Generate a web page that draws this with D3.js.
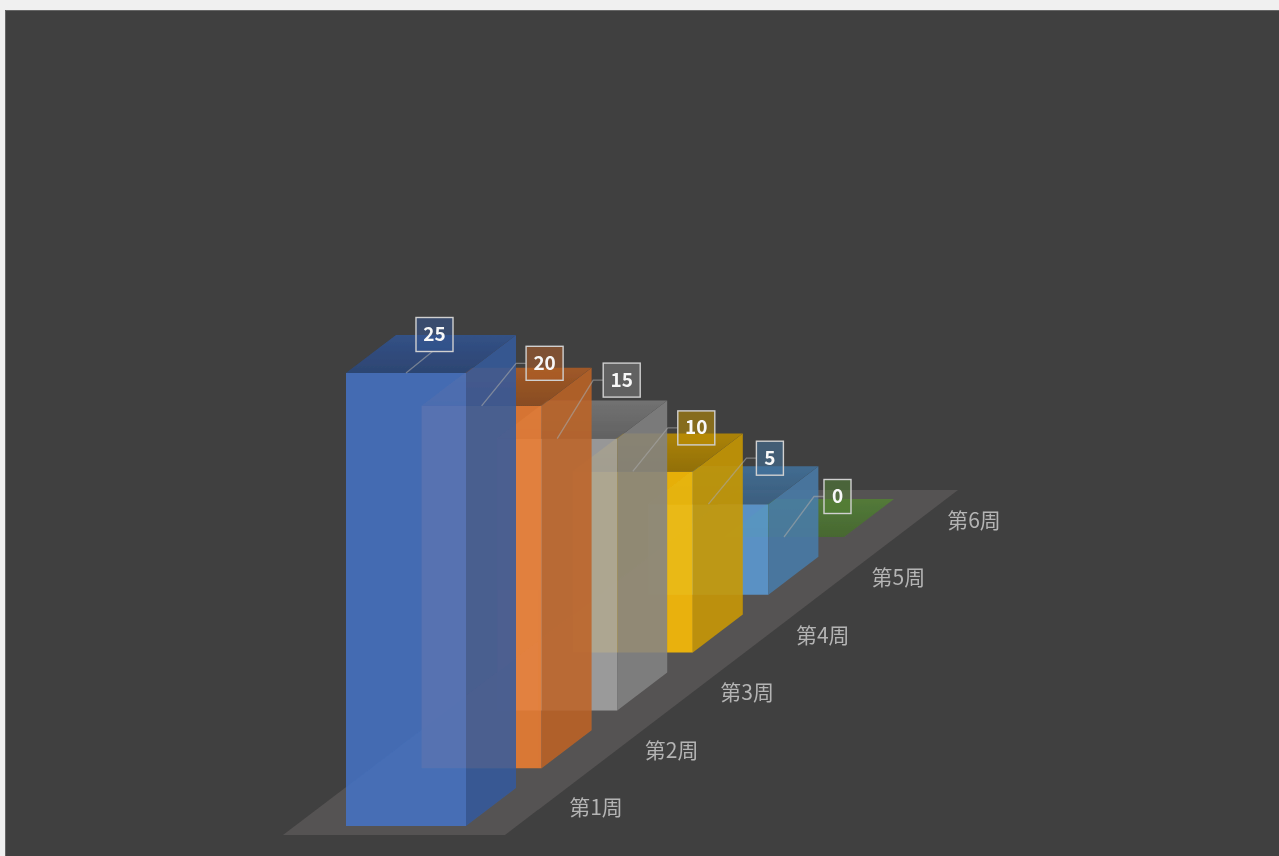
<!DOCTYPE html>
<html>
<head>
<meta charset="utf-8">
<script src="https://cdn.jsdelivr.net/npm/d3@7"></script>
<style>
  html, body { margin: 0; padding: 0; background: #f0f0f0; overflow: hidden; }
  svg { display: block; }
  text { font-family: "Noto Sans CJK SC", "Noto Sans", sans-serif; }
</style>
</head>
<body>
<div id="chart"></div>
<script>
const weeks = ["第1周", "第2周", "第3周", "第4周", "第5周", "第6周"];
const values = [25, 20, 15, 10, 5, 0];
const colors = ["#4472c4", "#ed7d31", "#a5a5a5", "#ffc000", "#5b9bd5", "#70ad47"];

const width = 1279;
const height = 856;

// fake 3d: each week steps right and up, depth is a fixed skew
const barW = 120;
const depthX = 50;
const depthY = 38;

const xPos = d3.scalePoint().domain(weeks).range([346, 724]);
const yBase = d3.scalePoint().domain(weeks).range([826, 537]);
const yWeek = d3.scalePoint().domain(weeks).range([815, 528]);
const barH = d3.scaleLinear().domain([0, 25]).range([0, 453]);

// label box centre, relative to the middle of the bar's top front edge
const labelShift = [[28.5, -38.5], [63, -42.5], [64.5, -58.5], [63.5, -43.5], [61.5, -46], [53.5, -40.5]];

const svg = d3.select("#chart").append("svg")
  .attr("width", width)
  .attr("height", height);

const defs = svg.append("defs");

// the reference is a soft screenshot
defs.append("filter")
  .attr("id", "soft")
  .attr("filterUnits", "userSpaceOnUse")
  .attr("x", 0).attr("y", 0)
  .attr("width", width).attr("height", height)
  .append("feGaussianBlur")
  .attr("stdDeviation", 0.55);

const topShade = defs.append("linearGradient")
  .attr("id", "topShade")
  .attr("x1", 0).attr("y1", 0)
  .attr("x2", 0).attr("y2", 1);
topShade.append("stop").attr("offset", 0).attr("stop-color", "#000").attr("stop-opacity", 0);
topShade.append("stop").attr("offset", 1).attr("stop-color", "#000").attr("stop-opacity", 0.16);

svg.append("rect")
  .attr("x", 5).attr("y", 10)
  .attr("width", width - 5).attr("height", height - 10)
  .attr("fill", "#404040");
svg.append("path")
  .attr("d", `M5.5,${height}V10.5H${width}`)
  .attr("fill", "none")
  .attr("stroke", "#666666");

const plot = svg.append("g").attr("filter", "url(#soft)");

// floor
const floorPad = { left: 63, right: 39, front: 9, back: 9 };
const x0 = xPos(weeks[0]), y0 = yBase(weeks[0]);
const x5 = xPos(weeks[5]), y5 = yBase(weeks[5]);
plot.append("polygon")
  .attr("fill", "#555353")
  .attr("points", [
    [x0 - floorPad.left, y0 + floorPad.front],
    [x0 + barW + floorPad.right, y0 + floorPad.front],
    [x5 + barW + depthX + 64, y5 - depthY - floorPad.back],
    [x5 + depthX - 37, y5 - depthY - floorPad.back]
  ].join(" "));

const rows = weeks.map((w, i) => {
  const x = xPos(w), b = yBase(w), t = b - barH(values[i]);
  return { week: w, value: values[i], color: colors[i], x, b, t, shift: labelShift[i] };
});

const darker = (c, k) => {
  const r = d3.rgb(c);
  return d3.rgb(r.r * k, r.g * k, r.b * k).formatHex();
};

const topPoints = d => `${d.x},${d.t} ${d.x + barW},${d.t} ${d.x + barW + depthX},${d.t - depthY} ${d.x + depthX},${d.t - depthY}`;

// back to front, group opacity lets the bar behind show through
const bars = plot.selectAll(".bar")
  .data(rows.slice().reverse())
  .enter()
  .append("g")
  .attr("class", "bar")
  .attr("opacity", 0.87);

bars.append("polygon")
  .attr("fill", d => d.color)
  .attr("points", d => `${d.x},${d.t} ${d.x + barW},${d.t} ${d.x + barW},${d.b} ${d.x},${d.b}`);

bars.append("polygon")
  .attr("fill", d => darker(d.color, 0.8))
  .attr("points", d => `${d.x + barW},${d.t} ${d.x + barW + depthX},${d.t - depthY} ${d.x + barW + depthX},${d.b - depthY} ${d.x + barW},${d.b}`);

bars.append("polygon")
  .attr("fill", d => darker(d.color, 0.74))
  .attr("points", topPoints);

bars.append("polygon")
  .attr("fill", "url(#topShade)")
  .attr("points", topPoints);

// week labels along the floor edge
plot.selectAll(".week")
  .data(rows)
  .enter()
  .append("text")
  .attr("class", "week")
  .attr("x", d => d.x + 250)
  .attr("y", d => yWeek(d.week))
  .attr("text-anchor", "middle")
  .attr("font-size", 21)
  .attr("fill", "#b4b4b4")
  .text(d => d.week);

function boxW(d) {
  return String(d.value).length > 1 ? 37 : 27;
}

// leaders
plot.selectAll(".leader")
  .data(rows)
  .enter()
  .append("path")
  .attr("class", "leader")
  .attr("fill", "none")
  .attr("stroke", "#a6a6a6")
  .attr("stroke-opacity", 0.6)
  .attr("stroke-width", 1.3)
  .attr("d", (d, i) => {
    const ax = d.x + barW / 2, ay = d.t;
    const cx = ax + d.shift[0], cy = ay + d.shift[1];
    const boxLeft = cx - boxW(d) / 2;
    if (i === 0) return `M${ax},${ay}L${cx - 2},${cy + 17}`;
    return `M${ax},${ay}L${boxLeft - 10},${cy}H${boxLeft}`;
  });

// data labels
const labels = plot.selectAll(".label")
  .data(rows)
  .enter()
  .append("g")
  .attr("class", "label")
  .attr("transform", d => `translate(${d.x + barW / 2 + d.shift[0]},${d.t + d.shift[1]})`);

labels.append("rect")
  .attr("x", d => -boxW(d) / 2)
  .attr("y", -17)
  .attr("width", boxW)
  .attr("height", 34)
  .attr("fill", d => darker(d.color, 0.75))
  .attr("fill-opacity", 0.55)
  .attr("stroke", "#d0d0d0")
  .attr("stroke-width", 1.4);

labels.append("text")
  .attr("text-anchor", "middle")
  .attr("y", 6.5)
  .attr("font-size", 19)
  .attr("font-weight", 700)
  .attr("fill", "#f8f8f8")
  .text(d => d.value);
</script>
</body>
</html>
